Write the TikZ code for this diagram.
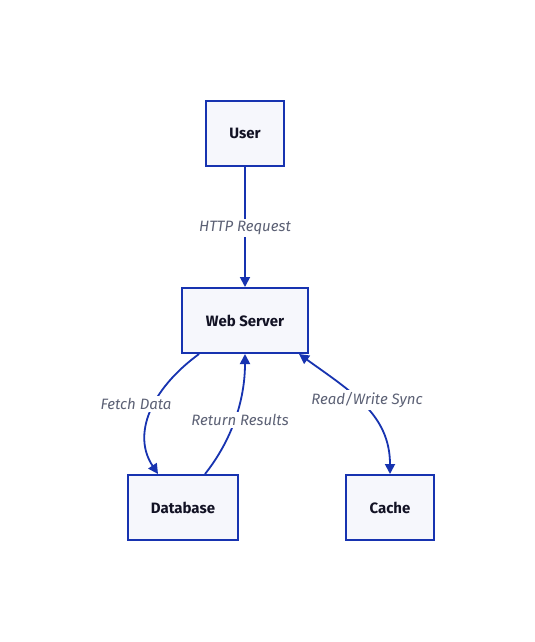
\documentclass[tikz,border=0pt]{standalone}
\usepackage{fontspec}
\setmainfont{Fira Sans}
\usetikzlibrary{arrows.meta}
\newlength{\du}
\setlength{\du}{1pt}
\definecolor{boxline}{rgb}{0.090000, 0.200000, 0.690000}
\definecolor{boxfill}{rgb}{0.965000, 0.970000, 0.990000}
\definecolor{boxtext}{rgb}{0.070000, 0.070000, 0.140000}
\definecolor{labeltext}{rgb}{0.360000, 0.380000, 0.460000}
\tikzset{
  entity/.style={draw=boxline, fill=boxfill, line width=2pt, minimum height=65\du,
    text=boxtext, font=\fontsize{15}{17}\selectfont\bfseries, inner sep=0pt},
  flow/.style={draw=boxline, line width=1.8pt, -{Triangle[length=10pt,width=10pt]}},
  syncflow/.style={draw=boxline, line width=1.8pt, {Triangle[length=10pt,width=10pt]}-{Triangle[length=10pt,width=10pt]}},
  flowlabel/.style={fill=white, text=labeltext, inner sep=2pt, font=\fontsize{15}{17}\selectfont\itshape}
}
\begin{document}
\begin{tikzpicture}
\pgftransformxscale{1.000000}
\pgftransformyscale{-1.000000}
\useasboundingbox[fill=white] (0\du,0\du) rectangle (535\du,642\du);
% boxes
\node[entity, minimum width=78\du] (user) at (245\du,133.5\du){User};
\node[entity, minimum width=126\du] (web) at (245\du,320.5\du){Web Server};
\node[entity, minimum width=110\du] (db) at (183\du,507.5\du){Database};
\node[entity, minimum width=88\du] (cache) at (390\du,507.5\du){Cache};
% connectors
\draw[flow] (user) -- (web);
\draw[flow] ([xshift=-46\du]web.south) .. controls (150\du,390\du) and (132\du,435\du) .. ([xshift=-25\du]db.north);
\draw[flow] ([xshift=22\du]db.north) .. controls (232\du,440\du) and (245\du,400\du) .. (web.south);
\draw[syncflow] ([xshift=-10\du]web.south east) .. controls (352\du,392\du) and (390\du,415\du) .. (cache.north);
% labels
\node[flowlabel] (httplbl) at (245\du,228\du){HTTP Request};
\node[flowlabel] (fetchlbl) at (136\du,404\du){Fetch Data};
\node[flowlabel] (returnlbl) at (240\du,420\du){Return Results};
\node[flowlabel] (synclbl) at (367\du,400\du){Read/Write Sync};
\end{tikzpicture}
\end{document}
